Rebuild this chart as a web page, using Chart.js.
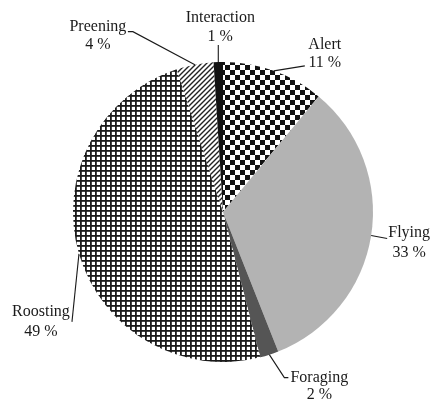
<!DOCTYPE html>
<html>
<head>
<meta charset="utf-8">
<script src="https://cdn.jsdelivr.net/npm/chart.js@4"></script>
<style>
  html, body { margin: 0; padding: 0; background: #fff; }
  #wrap { width: 433px; height: 402px; }
</style>
</head>
<body>
<div id="wrap"><canvas id="chart-pie" width="433" height="402"></canvas></div>
<script>
// ------------------------------------------------------------
// data
// ------------------------------------------------------------
const categories = ['Alert', 'Flying', 'Foraging', 'Roosting', 'Preening', 'Interaction'];
const shares     = [11, 33, 2, 49, 4, 1];

// label placement, relative to the slice's outer mid point
// leader: [dx, dy] end of leader line, hook: extra horizontal piece,
// text: [dx, dy1, dy2] of text block centre relative to leader end
const labelLayout = [
  { leader: [31, -5],  hook: 0,  text: [20, -21, -3] },   // Alert
  { leader: [16, 3],   hook: 0,  text: [22, -6, 14] },    // Flying
  { leader: [15, 23],  hook: 4,  text: [35, 0, 17] },     // Foraging
  { leader: [-7, 68],  hook: 0,  text: [-31, -10, 10] },  // Roosting
  { leader: [-62, -33],hook: -5, text: [-35, -5, 13] },   // Preening
  { leader: [0, -17],  hook: 0,  text: [2, -27, -8] },    // Interaction
];

// ------------------------------------------------------------
// fill patterns
// ------------------------------------------------------------
function makeTile(size, draw) {
  const c = document.createElement('canvas');
  c.width = size; c.height = size;
  const g = c.getContext('2d');
  g.fillStyle = '#fff';
  g.fillRect(0, 0, size, size);
  draw(g, size);
  return document.getElementById('chart-pie').getContext('2d').createPattern(c, 'repeat');
}

const checker = makeTile(10, (g) => {
  g.fillStyle = '#111';
  g.fillRect(0, 0, 5, 5);
  g.fillRect(5, 5, 5, 5);
});

const grid = makeTile(5, (g) => {
  g.fillStyle = '#1a1a1a';
  g.fillRect(0, 0, 5, 1.8);
  g.fillRect(0, 0, 1.8, 5);
});

const hatch = makeTile(5, (g) => {
  g.strokeStyle = '#222';
  g.lineWidth = 1.4;
  g.beginPath();
  g.moveTo(-1, 6); g.lineTo(6, -1);
  g.moveTo(-1, 1); g.lineTo(1, -1);
  g.moveTo(4, 6); g.lineTo(6, 4);
  g.stroke();
});

const fills = [checker, '#b3b3b3', '#555555', grid, hatch, '#111111'];

// ------------------------------------------------------------
// outside labels with leader lines
// ------------------------------------------------------------
const leaderLabels = {
  id: 'leaderLabels',
  afterDraw(chart) {
    const ctx = chart.ctx;
    const arcs = chart.getDatasetMeta(0).data;
    ctx.save();
    ctx.strokeStyle = '#1a1a1a';
    ctx.lineWidth = 1.1;
    ctx.fillStyle = '#1a1a1a';
    ctx.font = '16px "Liberation Serif", "Times New Roman", serif';
    ctx.textAlign = 'center';
    ctx.textBaseline = 'middle';
    arcs.forEach((arc, i) => {
      const p = arc.getProps(['x', 'y', 'startAngle', 'endAngle', 'outerRadius'], true);
      const mid = (p.startAngle + p.endAngle) / 2;
      const ex = p.x + Math.cos(mid) * p.outerRadius;
      const ey = p.y + Math.sin(mid) * p.outerRadius;
      const L = labelLayout[i];
      const lx = ex + L.leader[0];
      const ly = ey + L.leader[1];
      ctx.beginPath();
      ctx.moveTo(ex, ey);
      ctx.lineTo(lx, ly);
      if (L.hook) ctx.lineTo(lx + L.hook, ly);
      ctx.stroke();
      const tx = lx + L.text[0];
      ctx.fillText(categories[i], tx, ly + L.text[1]);
      ctx.fillText(shares[i] + ' %', tx, ly + L.text[2]);
    });
    ctx.restore();
  }
};

// ------------------------------------------------------------
// chart
// ------------------------------------------------------------
new Chart(document.getElementById('chart-pie'), {
  type: 'pie',
  data: {
    labels: categories,
    datasets: [{
      data: shares,
      backgroundColor: fills,
      borderWidth: 0,
    }],
  },
  options: {
    responsive: false,
    animation: false,
    rotation: 0,
    layout: { padding: { left: 73, right: 60, top: 62, bottom: 40 } },
    plugins: {
      legend: { display: false },
      tooltip: { enabled: false },
    },
  },
  plugins: [leaderLabels],
});
</script>
</body>
</html>
